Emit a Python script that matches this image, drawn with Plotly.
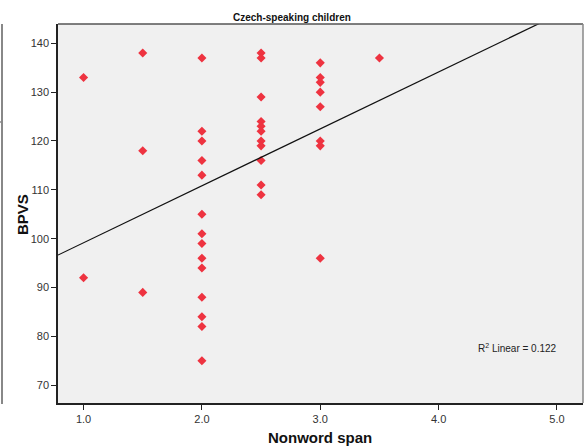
import plotly.graph_objects as go

# Data
span_1_0 = [133, 92]
span_1_5 = [138, 118, 89]
span_2_0 = [137, 122, 120, 116, 113, 105, 101, 99, 96, 94, 88, 84, 82, 75]
span_2_5 = [138, 137, 129, 124, 123, 122, 120, 119, 116, 111, 109]
span_3_0 = [136, 133, 132, 130, 127, 120, 119, 96]
span_3_5 = [137]
span_levels = [1.0, 1.5, 2.0, 2.5, 3.0, 3.5]
fit_intercept = 87.5
fit_slope = 11.66
r2_text = "R<sup>2</sup> Linear = 0.122"
x_ticks = [1.0, 2.0, 3.0, 4.0, 5.0]
x_tick_labels = ["1.0", "2.0", "3.0", "4.0", "5.0"]
y_ticks = [70, 80, 90, 100, 110, 120, 130, 140]

groups = [span_1_0, span_1_5, span_2_0, span_2_5, span_3_0, span_3_5]
xs, ys = [], []
for lvl, vals in zip(span_levels, groups):
    for v in vals:
        xs.append(lvl)
        ys.append(v)

x_range = [0.784, 5.22]
y_range = [66.35, 143.95]

W, H = 585, 447
L, R, T, B = 58, 2, 24, 44
PW, PH = W - L - R, H - T - B

def px(x):
    return (x - L) / PW

def py(y):
    return (H - B - y) / PH

fig = go.Figure()
fig.add_trace(go.Scatter(
    x=xs, y=ys, mode="markers",
    marker=dict(symbol="diamond", size=7, color="#ee3340"),
    showlegend=False,
))
fit_x = [x_range[0], x_range[1]]
fig.add_trace(go.Scatter(
    x=fit_x, y=[fit_intercept + fit_slope * v for v in fit_x],
    mode="lines", line=dict(color="#111111", width=1.2),
    showlegend=False,
))

font = "Liberation Sans, Arial, sans-serif"
fig.update_layout(
    width=W, height=H,
    margin=dict(l=L, r=R, t=T, b=B, autoexpand=False),
    paper_bgcolor="white", plot_bgcolor="#f0f0f0",
    font=dict(family=font, color="#333333", size=11),
    xaxis=dict(range=x_range, tickvals=x_ticks, ticktext=x_tick_labels,
               automargin=False,
               showgrid=False, zeroline=False, showline=True, linecolor="#222222",
               linewidth=1.5, ticks="outside", ticklen=5, tickcolor="#222222"),
    yaxis=dict(range=y_range, tickvals=y_ticks, automargin=False,
               showgrid=False, zeroline=False, showline=True, linecolor="#222222",
               linewidth=1.5, ticks="outside", ticklen=5, tickcolor="#222222"),
    annotations=[
        dict(text=r2_text, x=px(476), y=py(348), xref="paper", yref="paper",
             xanchor="left", yanchor="middle", showarrow=False,
             font=dict(size=10, color="#222222")),
        dict(text="<b>Czech-speaking children</b>", x=px(292), y=py(17),
             xref="paper", yref="paper", xanchor="center", yanchor="middle",
             showarrow=False, font=dict(size=10, color="#111111")),
        dict(text="<b>Nonword span</b>", x=px(320), y=py(437),
             xref="paper", yref="paper", xanchor="center", yanchor="middle",
             showarrow=False, font=dict(size=15, color="#111111")),
        dict(text="<b>BPVS</b>", x=px(22), y=py(215), textangle=-90,
             xref="paper", yref="paper", xanchor="center", yanchor="middle",
             showarrow=False, font=dict(size=15, color="#111111")),
    ],
    shapes=[
        dict(type="line", xref="paper", yref="paper", x0=0, x1=1, y0=1, y1=1,
             line=dict(color="#555555", width=1.5)),
        dict(type="line", xref="paper", yref="paper", x0=1, x1=1, y0=0, y1=1,
             line=dict(color="#888888", width=1.5)),
        # outer panel frame remnant at the far left
        dict(type="line", xref="paper", yref="paper", x0=px(2), x1=px(2),
             y0=py(404), y1=py(24), line=dict(color="#888888", width=2)),
        dict(type="line", xref="paper", yref="paper", x0=px(0), x1=px(3),
             y0=py(122), y1=py(122), line=dict(color="#888888", width=1.5)),
    ],
)

fig.write_html("out.html", config={"displayModeBar": False},
               post_script="document.body.style.margin='0';document.body.style.padding='0';")
